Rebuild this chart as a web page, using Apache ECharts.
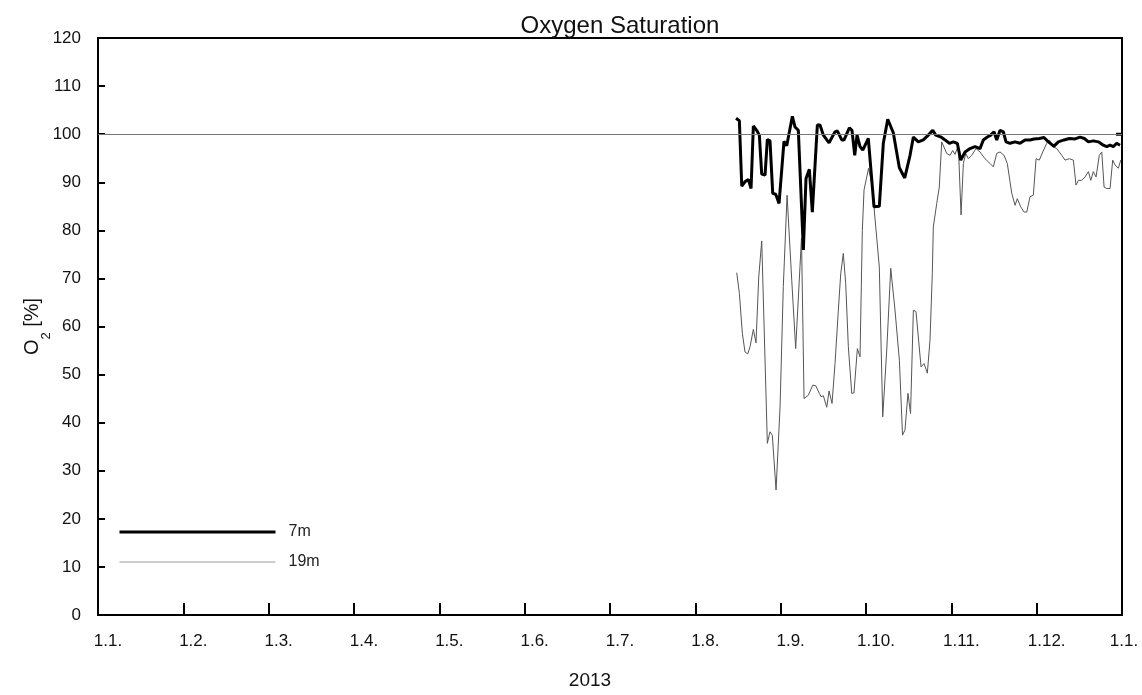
<!DOCTYPE html>
<html>
<head>
<meta charset="utf-8">
<script src="https://cdn.jsdelivr.net/npm/echarts@6/dist/echarts.min.js"></script>
<style>
  html, body { margin: 0; padding: 0; background: #fff; }
  #chart { width: 1142px; height: 695px; }
</style>
</head>
<body>
<div id="chart"></div>
<script>
// x positions are in month units: 0 = 1.1.2013, 12 = 1.1.2014
const monthLabels = ['1.1.', '1.2.', '1.3.', '1.4.', '1.5.', '1.6.', '1.7.', '1.8.', '1.9.', '1.10.', '1.11.', '1.12.', '1.1.']

const pos7m = [
  7.477, 7.516, 7.544, 7.582, 7.621, 7.653, 7.680, 7.719, 7.750, 7.778,
  7.817, 7.844, 7.875, 7.907, 7.942, 7.981, 8.039, 8.071, 8.137, 8.168,
  8.207, 8.266, 8.297, 8.336, 8.371, 8.430, 8.461, 8.500, 8.567, 8.637,
  8.664, 8.716, 8.743, 8.805, 8.836, 8.868, 8.895, 8.930, 8.962, 9.027,
  9.094, 9.156, 9.203, 9.255, 9.320, 9.391, 9.454,
  9.516, 9.555, 9.613, 9.672, 9.730, 9.782, 9.817, 9.879, 9.926, 9.977,
  10.023, 10.070, 10.110, 10.161, 10.219, 10.278, 10.336, 10.375, 10.422, 10.462,
  10.500, 10.532, 10.571, 10.609, 10.641, 10.688, 10.747, 10.805, 10.864, 10.922,
  10.969, 11.031, 11.086, 11.137, 11.203, 11.254, 11.321, 11.383, 11.450, 11.508,
  11.559, 11.606, 11.664, 11.723, 11.781, 11.821, 11.860, 11.898, 11.938, 11.977,
  11.980, 11.930, 12.000
]
const o2_7m = [
  103.3, 102.8, 89.2, 90.1, 90.6, 88.7, 101.7, 100.8, 99.8, 91.7,
  91.5, 98.9, 98.6, 87.7, 87.5, 85.6, 98.5, 97.6, 103.7, 101.5,
  100.8, 75.9, 90.8, 92.7, 83.8, 101.9, 101.9, 99.8, 98.2, 100.5,
  100.7, 98.8, 98.8, 101.3, 100.8, 95.6, 99.8, 97.4, 96.7, 99.1,
  84.9, 85.0, 98.1, 103.1, 100.3, 93.0, 90.9,
  95.6, 99.4, 98.4, 98.8, 99.8, 100.8, 99.8, 99.4, 98.8, 98.1,
  98.4, 98.1, 94.6, 96.3, 97.0, 97.4, 97.0, 98.8, 99.4, 99.8,
  100.5, 98.8, 100.8, 100.5, 98.4, 98.1, 98.4, 98.1, 98.8, 98.8,
  99.0, 99.1, 99.3, 98.4, 97.5, 98.4, 98.8, 99.1, 99.0, 99.4,
  99.1, 98.4, 98.6, 98.4, 97.7, 97.4, 97.7, 97.4, 98.1, 97.7,
  null, 100.0, 100.0
]

const pos19m = [
  7.485, 7.516, 7.551, 7.582, 7.614, 7.641, 7.680, 7.711, 7.743, 7.778,
  7.844, 7.875, 7.902, 7.946, 7.993, 8.031, 8.075, 8.130, 8.176, 8.244,
  8.274, 8.324, 8.376, 8.411, 8.453, 8.473, 8.500, 8.540, 8.567, 8.602,
  8.637, 8.676, 8.704, 8.734, 8.762, 8.793, 8.833, 8.859, 8.899, 8.930,
  8.957, 8.977, 9.030, 9.071, 9.118, 9.156, 9.196, 9.243, 9.290, 9.340,
  9.391, 9.428, 9.457, 9.492, 9.522, 9.555, 9.586, 9.645, 9.680, 9.719,
  9.750, 9.777, 9.789, 9.829, 9.859, 9.887, 9.906, 9.946, 9.985, 10.016,
  10.043, 10.082, 10.114, 10.141, 10.169, 10.199, 10.239, 10.289, 10.336, 10.395,
  10.454, 10.492, 10.532, 10.571, 10.618, 10.656, 10.708, 10.747, 10.773, 10.813,
  10.852, 10.884, 10.922, 10.961, 10.993, 11.031, 11.071, 11.118, 11.149, 11.188,
  11.235, 11.294, 11.332, 11.383, 11.430, 11.461, 11.489, 11.528, 11.567, 11.606,
  11.634, 11.664, 11.696, 11.734, 11.763, 11.790, 11.821, 11.860, 11.891, 11.918,
  11.957, 11.985
]
const o2_19m = [
  71.2, 66.9, 58.6, 54.7, 54.3, 55.8, 59.4, 56.6, 70.3, 77.8,
  35.7, 38.1, 37.4, 26.0, 43.3, 68.3, 87.3, 69.6, 55.4, 78.4,
  45.0, 45.7, 47.8, 47.7, 46.1, 45.4, 45.6, 43.2, 46.6, 44.0,
  52.3, 63.4, 71.0, 75.2, 69.0, 55.8, 46.1, 46.2, 55.4, 53.7,
  80.0, 88.4, 92.9, 89.4, 80.0, 72.4, 41.2, 55.1, 72.1, 63.4,
  53.0, 37.4, 38.5, 46.1, 41.9, 63.4, 63.1, 51.6, 52.3, 50.3,
  57.2, 71.0, 80.7, 85.6, 89.0, 98.4, 98.8, 96.0, 95.6, 96.6,
  95.8, 97.7, 83.2, 93.9, 96.0, 94.9, 95.6, 97.0, 96.3, 94.9,
  93.9, 93.2, 96.0, 96.3, 95.6, 93.9, 87.7, 85.2, 86.6, 84.9,
  83.8, 83.8, 87.0, 87.3, 94.9, 94.6, 96.3, 98.1, 98.8, 97.4,
  97.0, 95.6, 94.6, 94.9, 94.6, 89.4, 90.4, 90.4, 91.1, 92.2,
  90.4, 92.2, 91.1, 95.6, 96.3, 89.0, 88.7, 88.7, 94.6, 93.6,
  92.9, 94.6
]

const toPairs = (xs, ys) => xs.map((x, i) => [x, ys[i] === null ? '-' : ys[i]])

const chart = echarts.init(document.getElementById('chart'))
const font = 'Liberation Sans, Arial, sans-serif'

chart.setOption({
  animation: false,
  textStyle: { fontFamily: font },
  title: {
    text: 'Oxygen Saturation',
    left: 615,
    top: 9,
    textAlign: 'center',
    textStyle: { fontSize: 24, fontWeight: 'normal', color: '#111', fontFamily: font }
  },
  grid: {
    left: 98,
    right: 20,
    top: 38,
    bottom: 80,
    outerBoundsMode: 'none',
    containLabel: false,
    show: true,
    borderColor: '#000',
    borderWidth: 2,
    backgroundColor: 'transparent'
  },
  legend: {
    orient: 'vertical',
    left: 113,
    top: 519,
    itemWidth: 156,
    itemHeight: 14,
    itemGap: 14,
    itemStyle: { opacity: 0 },
    data: [
      { name: '7m', lineStyle: { color: '#000', width: 3 } },
      { name: '19m', lineStyle: { color: '#999', width: 1 } }
    ],
    textStyle: { fontSize: 16, color: '#222', padding: [0, 0, 0, 8] }
  },
  xAxis: {
    type: 'value',
    min: 0,
    max: 12,
    interval: 1,
    name: '2013',
    nameLocation: 'middle',
    nameGap: 56,
    nameMoveOverlap: false,
    nameTextStyle: { fontSize: 19, color: '#111', padding: [0, 40, 0, 0] },
    axisLine: { lineStyle: { color: '#000', width: 2 } },
    axisTick: { inside: true, length: 12, lineStyle: { color: '#000', width: 2 } },
    splitLine: { show: false },
    axisLabel: {
      fontSize: 17,
      color: '#111',
      margin: 18,
      showMaxLabel: true,
      hideOverlap: false,
      formatter: v => {
        const i = Math.round(v)
        return (i === 12 ? '{e|' : '{m|') + monthLabels[i] + '}'
      },
      rich: {
        m: { fontSize: 17, color: '#111', padding: [0, 0, 0, 20] },
        e: { fontSize: 17, color: '#111', padding: [0, 0, 0, 4] }
      }
    }
  },
  yAxis: {
    type: 'value',
    min: 0,
    max: 120,
    interval: 10,
    name: '{a|O}{s|2}{a| [%]}',
    nameLocation: 'middle',
    nameGap: 53,
    nameMoveOverlap: false,
    nameTextStyle: {
      rich: {
        a: { fontSize: 20, color: '#111', lineHeight: 26 },
        s: { fontSize: 13, color: '#111', lineHeight: 26, verticalAlign: 'bottom', padding: [0, 0, -8, 0] }
      }
    },
    axisLine: { lineStyle: { color: '#000', width: 2 } },
    axisTick: { inside: true, length: 7, lineStyle: { color: '#000', width: 2 } },
    splitLine: { show: false },
    axisLabel: { fontSize: 17, color: '#111', margin: 17 }
  },
  series: [
    {
      name: '19m',
      type: 'line',
      showSymbol: false,
      symbol: 'none',
      data: toPairs(pos19m, o2_19m),
      lineStyle: { color: '#555', width: 1 },
      itemStyle: { color: '#555' },
      markLine: {
        silent: true,
        symbol: 'none',
        label: { show: false },
        lineStyle: { color: '#777', width: 1, type: 'solid' },
        data: [{ yAxis: 100 }]
      }
    },
    {
      name: '7m',
      type: 'line',
      showSymbol: false,
      symbol: 'none',
      connectNulls: false,
      data: toPairs(pos7m, o2_7m),
      lineStyle: { color: '#000', width: 3 },
      itemStyle: { color: '#000' }
    }
  ]
})
</script>
</body>
</html>
